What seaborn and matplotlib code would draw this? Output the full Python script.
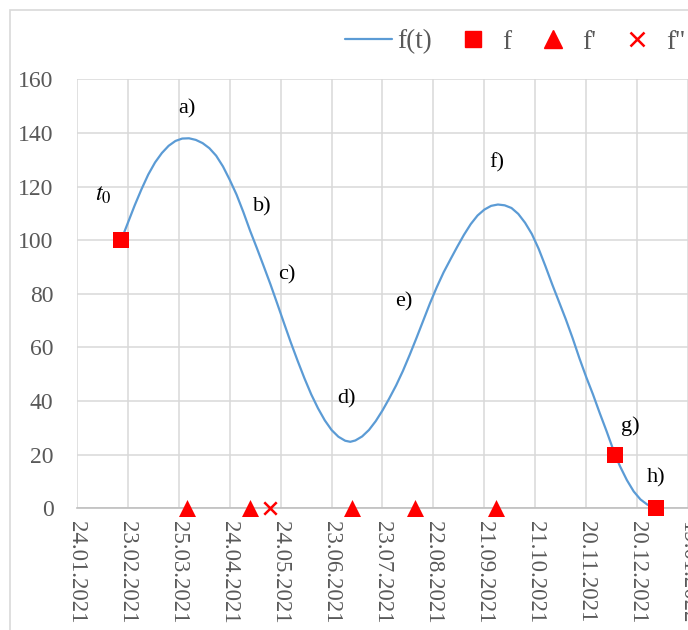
import matplotlib
matplotlib.use("Agg")
import matplotlib.pyplot as plt
import matplotlib.dates as mdates
from matplotlib.lines import Line2D
from matplotlib.patches import Rectangle
import pandas as pd
import seaborn as sns

# ---- data -------------------------------------------------------------
start = pd.Timestamp("2021-01-24")

# f(t): days after the start date and function values
curve_day = [26, 30, 34, 38, 42, 46, 50, 54, 58, 62,
             66, 70, 74, 78, 82, 86, 90, 94, 98, 102,
             106, 110, 114, 118, 122, 126, 130, 134, 138, 142,
             146, 150, 154, 158, 161,
             164, 168, 172, 176, 180, 184, 188, 192, 196, 200,
             204, 208, 212, 216, 220, 224, 228, 232, 236, 240,
             244, 248, 252, 256, 260, 264, 268, 272, 276, 280,
             284, 288, 292, 296, 300, 304, 308, 312,
             317, 320, 324, 328, 332, 336, 341]
curve_val = [100, 106.5, 113, 119, 124.5, 129, 132.5, 135.2, 137, 137.9,
             138, 137.4, 136.2, 134.3, 131.5, 127.5, 122.5, 117, 110.5, 103.5,
             97, 90.3, 83.5, 76.3, 69, 61.8, 55, 48.5, 42.5, 37.3,
             32.8, 29.2, 26.7, 25.2, 24.8,
             25.3, 26.8, 29.2, 32.5, 36.5, 41, 45.8, 51.2, 57.2, 63.5,
             70, 76.5, 82.5, 88, 92.8, 97.5, 102, 106, 109.2, 111.4,
             112.8, 113.3, 113, 112, 109.8, 106.5, 102.3, 96.8, 90.3, 83.5,
             77, 70.5, 63.5, 56, 49, 42.5, 35.5, 28.8,
             20, 15.6, 10.5, 6.3, 3.3, 1.4, 0]

# known values f, zeros of f' and f''
f_day = [26, 317, 341]
f_val = [100, 20, 0]
fp_day = [65, 102, 162, 199, 247]
fp_val = [0, 0, 0, 0, 0]
fpp_day = [114]
fpp_val = [0]

y_ticks = [0, 20, 40, 60, 80, 100, 120, 140, 160]
n_xticks = 13
xtick_step_days = 30

labels = ["a)", "b)", "c)", "d)", "e)", "f)", "g)", "h)", "$t_0$"]
label_day = [64.6, 109, 123.6, 159, 192.6, 247.4, 326.3, 341, 15.3]
label_val = [148.8, 112.5, 87, 41, 77, 129, 30.6, 11.2, 116.6]


def to_dates(days):
    return start + pd.to_timedelta(days, unit="D")


curve = pd.DataFrame({"t": to_dates(curve_day), "v": curve_val})
pts_f = pd.DataFrame({"t": to_dates(f_day), "v": f_val})
pts_fp = pd.DataFrame({"t": to_dates(fp_day), "v": fp_val})
pts_fpp = pd.DataFrame({"t": to_dates(fpp_day), "v": fpp_val})

# ---- style ------------------------------------------------------------
sns.set_style("white")
plt.rcParams["font.family"] = ["Liberation Serif", "DejaVu Serif"]
plt.rcParams["mathtext.fontset"] = "stix"

BLUE = "#5B9BD5"
RED = "#FF0000"
GRID = "#D9D9D9"
TXT = "#595959"

W, H = 688, 630
fig = plt.figure(figsize=(W / 100, H / 100), dpi=100)
ax = fig.add_axes([77 / W, (H - 508.3) / H, (W - 77) / W, (508.3 - 79.3) / H])

# outer chart border
fig.patches.append(Rectangle((10 / W, -0.1), 1.2, 1.1 - 10 / H,
                             transform=fig.transFigure, fill=False,
                             edgecolor=GRID, linewidth=1.2))

sns.lineplot(data=curve, x="t", y="v", ax=ax, color=BLUE, linewidth=1.6,
             zorder=3)
sns.scatterplot(data=pts_f, x="t", y="v", ax=ax, marker="s", s=135,
                color=RED, edgecolor=RED, linewidth=0, clip_on=False, zorder=5)
sns.scatterplot(data=pts_fp, x="t", y="v", ax=ax, marker="^", s=150,
                color=RED, edgecolor=RED, linewidth=0, clip_on=False, zorder=5)
sns.scatterplot(data=pts_fpp, x="t", y="v", ax=ax, marker="x", s=80,
                color=RED, linewidth=1.8, clip_on=False, zorder=5)

for txt, d, v in zip(labels, label_day, label_val):
    ax.text(to_dates([d])[0], v, txt, ha="center", va="center",
            fontsize=16 if not txt.startswith("$") else 17, color="black")

# axes
xticks = [start + pd.Timedelta(days=xtick_step_days * i) for i in range(n_xticks)]
ax.set_xlim(xticks[0], xticks[-1])
ax.set_ylim(0, 160)
ax.set_xticks(xticks)
ax.xaxis.set_major_formatter(mdates.DateFormatter("%d.%m.%Y"))
ax.set_yticks(y_ticks)
ax.tick_params(axis="x", length=0, pad=9, labelsize=16.5, labelcolor=TXT,
               labelrotation=270)
ax.tick_params(axis="y", length=0, pad=17, labelsize=17, labelcolor=TXT)
for lab in ax.get_xticklabels():
    lab.set_ha("center")
    lab.set_va("top")
ax.set_xlabel("")
ax.set_ylabel("")
ax.grid(True, color=GRID, linewidth=1.1)
ax.set_axisbelow(True)
for s in ("top", "right", "left"):
    ax.spines[s].set_visible(False)
ax.spines["bottom"].set_color("#BFBFBF")
ax.spines["bottom"].set_linewidth(1.2)
ax.spines["bottom"].set_zorder(2)

# legend
handles = [
    Line2D([], [], color=BLUE, linewidth=1.6),
    Line2D([], [], linestyle="none", marker="s", markersize=11.5, color=RED),
    Line2D([], [], linestyle="none", marker="^", markersize=12.5, color=RED),
    Line2D([], [], linestyle="none", marker="x", markersize=9.5, color=RED,
           markeredgewidth=1.8),
]
fig.legend(handles, ["f(t)", "f", "f'", "f''"], loc="center left",
           bbox_to_anchor=(345 / W, 1 - 42 / H), ncol=4, frameon=False,
           fontsize=19.5, labelcolor=TXT, handlelength=1.74,
           handletextpad=0.2, columnspacing=0.65, borderpad=0,
           borderaxespad=0)

fig.savefig("out.png", dpi=100)
